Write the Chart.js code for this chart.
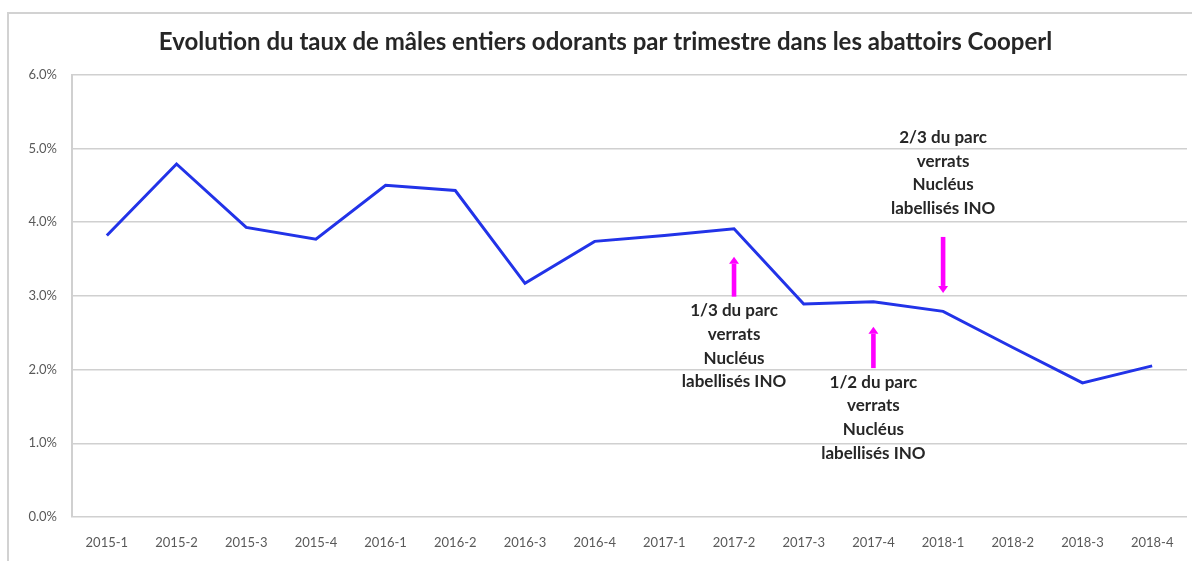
<!DOCTYPE html>
<html>
<head>
<meta charset="utf-8">
<script src="https://cdn.jsdelivr.net/npm/chart.js@4"></script>
<style>
  html, body { margin: 0; padding: 0; background: #ffffff; overflow: hidden; }
  #wrap { position: relative; width: 1192px; height: 561px; }
  #frame { position: absolute; left: 7px; top: 12px; width: 1300px; height: 700px;
           border: 2px solid #d2d2d2; pointer-events: none; box-sizing: border-box; }
  canvas { position: absolute; left: 0; top: 0; }
</style>
</head>
<body>
<div id="wrap">
  <div id="frame"></div>
  <canvas id="c" width="1192" height="561"></canvas>
</div>
<script>
// ---- data ----
const categories = ['2015-1','2015-2','2015-3','2015-4','2016-1','2016-2','2016-3','2016-4',
                    '2017-1','2017-2','2017-3','2017-4','2018-1','2018-2','2018-3','2018-4'];
const tauxOdorants = [3.82, 4.79, 3.93, 3.77, 4.50, 4.43, 3.17, 3.74,
                      3.82, 3.91, 2.89, 2.92, 2.79, 2.30, 1.82, 2.05];
const yTickLabels = ['0.0%','1.0%','2.0%','3.0%','4.0%','5.0%','6.0%'];
const titleText = 'Evolution du taux de mâles entiers odorants par trimestre dans les abattoirs Cooperl';

// annotations (category, arrow start value, arrow end value, value of first text line)
const annotCategories = ['2017-2', '2017-4', '2018-1'];
const annotArrowFrom  = [2.99, 2.02, 3.80];
const annotArrowTo    = [3.53, 2.58, 3.04];
const annotTextValue  = [2.80, 1.83, 5.15];
const annotTexts = [
  ['1/3 du parc', 'verrats', 'Nucléus', 'labellisés INO'],
  ['1/2 du parc', 'verrats', 'Nucléus', 'labellisés INO'],
  ['2/3 du parc', 'verrats', 'Nucléus', 'labellisés INO']
];

const FONT = 'Lato, "Open Sans", "DejaVu Sans", sans-serif';

const annotationPlugin = {
  id: 'annotArrows',
  afterDatasetsDraw(chart) {
    const ctx = chart.ctx;
    const xs = chart.scales.x, ys = chart.scales.y;
    ctx.save();
    for (let i = 0; i < annotCategories.length; i++) {
      const x = xs.getPixelForValue(categories.indexOf(annotCategories[i]));
      const y0 = ys.getPixelForValue(annotArrowFrom[i]);
      const y1 = ys.getPixelForValue(annotArrowTo[i]);
      const dir = y1 < y0 ? -1 : 1;
      const headLen = 7, headHalf = 5, shaftHalf = 2.3;
      ctx.fillStyle = '#ff00ff';
      const shaftEnd = y1 - dir * headLen;
      ctx.fillRect(x - shaftHalf, Math.min(y0, shaftEnd), shaftHalf * 2, Math.abs(shaftEnd - y0));
      ctx.beginPath();
      ctx.moveTo(x - headHalf, shaftEnd);
      ctx.lineTo(x + headHalf, shaftEnd);
      ctx.lineTo(x, y1);
      ctx.closePath();
      ctx.fill();
      ctx.fillStyle = '#262626';
      ctx.font = 'bold 17px ' + FONT;
      ctx.textAlign = 'center';
      ctx.textBaseline = 'middle';
      const ty = ys.getPixelForValue(annotTextValue[i]);
      annotTexts[i].forEach((line, k) => ctx.fillText(line, x, ty + k * 23.7));
    }
    ctx.restore();
  }
};

new Chart(document.getElementById('c'), {
  type: 'line',
  data: {
    labels: categories,
    datasets: [{
      data: tauxOdorants,
      borderColor: '#2233e8',
      borderWidth: 3,
      pointRadius: 0,
      tension: 0,
      fill: false
    }]
  },
  options: {
    responsive: false,
    animation: false,
    devicePixelRatio: 1,
    layout: { padding: { left: 24, right: 5, top: 0, bottom: 0 } },
    plugins: {
      legend: { display: false },
      tooltip: { enabled: false },
      title: {
        display: true,
        text: titleText,
        color: '#262626',
        font: { family: FONT, size: 24, weight: 'bold', lineHeight: 1.2 },
        padding: { top: 28, bottom: 18 }
      }
    },
    scales: {
      x: {
        offset: true,
        grid: { display: false, drawTicks: false },
        border: { display: false },
        ticks: {
          color: '#595959',
          font: { family: FONT, size: 13 },
          padding: 18,
          maxRotation: 0,
          autoSkip: false
        },
        afterFit(scale) { scale.height = 44; }
      },
      y: {
        min: 0, max: 6,
        grid: { color: '#d0d0d0', lineWidth: 1.6, drawTicks: false },
        border: { display: true, color: '#d0d0d0', width: 2 },
        ticks: {
          stepSize: 1,
          color: '#595959',
          font: { family: FONT, size: 13 },
          padding: 15,
          callback: (v) => yTickLabels[Math.round(v)]
        },
        afterFit(scale) { scale.width = 48; }
      }
    }
  },
  plugins: [annotationPlugin]
});
</script>
</body>
</html>
